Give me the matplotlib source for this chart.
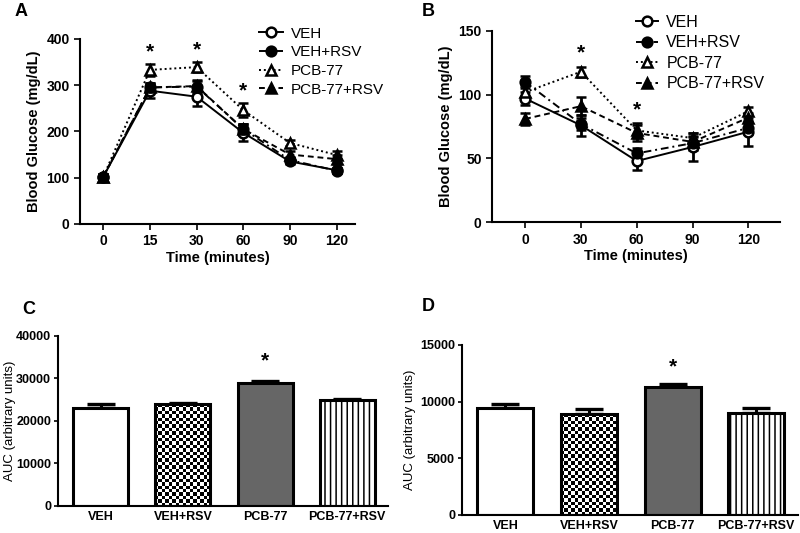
import matplotlib
matplotlib.use("Agg")
import matplotlib.pyplot as plt
import numpy as np

plt.rcParams['font.family'] = ['Liberation Sans', 'DejaVu Sans']
plt.rcParams['hatch.linewidth'] = 1.1

groups = ['VEH', 'VEH+RSV', 'PCB-77', 'PCB-77+RSV']

# panel A: glucose tolerance
time_a = ['0', '15', '30', '60', '90', '120']
veh_a = [102, 288, 275, 197, 135, 116]
veh_rsv_a = [102, 295, 297, 205, 138, 115]
pcb_a = [102, 333, 339, 246, 175, 149]
pcb_rsv_a = [102, 295, 298, 205, 150, 140]
veh_a_err = [6, 15, 20, 18, 6, 5]
veh_rsv_a_err = [6, 10, 15, 12, 6, 5]
pcb_a_err = [5, 13, 10, 15, 7, 8]
pcb_rsv_a_err = [5, 10, 12, 12, 8, 10]
star_a = [1, 2, 3]

# panel B: insulin tolerance
time_b = [0, 30, 60, 90, 120]
veh_b = [97, 76, 48, 59, 71]
veh_rsv_b = [110, 77, 54, 62, 74]
pcb_b = [102, 118, 72, 66, 87]
pcb_rsv_b = [81, 91, 70, 63, 82]
veh_b_err = [5, 8, 7, 11, 11]
veh_rsv_b_err = [5, 5, 4, 5, 5]
pcb_b_err = [5, 4, 6, 4, 3]
pcb_rsv_b_err = [5, 7, 6, 5, 4]
star_b = [30, 60]

# panels C, D: AUC
auc_c = [23000, 23900, 29000, 24800]
auc_c_err = [1000, 300, 400, 400]
auc_d = [9400, 8900, 11250, 9000]
auc_d_err = [400, 450, 300, 400]

styles = [
    dict(ls='-', marker='o', mfc='white'),
    dict(ls=(0, (4, 2, 1, 2)), marker='o', mfc='black'),
    dict(ls=(0, (1, 1.5)), marker='^', mfc='white'),
    dict(ls=(0, (3, 2)), marker='^', mfc='black'),
]

fig = plt.figure(figsize=(8, 5.33), dpi=100)


def style_axes(ax):
    ax.spines['top'].set_visible(False)
    ax.spines['right'].set_visible(False)
    ax.spines['left'].set_linewidth(1.5)
    ax.spines['bottom'].set_linewidth(1.5)
    ax.tick_params(direction='out', length=4, width=1.2)


def line_panel(ax, x, series, errs):
    for name, y, e, st in zip(groups, series, errs, styles):
        ax.errorbar(x, y, yerr=e, color='black', lw=1.4, ls=st['ls'],
                    marker=st['marker'], mfc=st['mfc'], mec='black', ms=7, mew=1.8,
                    capsize=3.5, capthick=2, elinewidth=2, label=name)
    style_axes(ax)
    ax.set_xlabel('Time (minutes)', fontsize=10.5, fontweight='bold', labelpad=2)
    ax.set_ylabel('Blood Glucose (mg/dL)', fontsize=10.5, fontweight='bold', labelpad=4)
    handles, labels = ax.get_legend_handles_labels()
    handles = [h[0] for h in handles]
    return handles, labels


# Panel A
axA = fig.add_axes([0.1, 0.58, 0.344, 0.347])
xa = np.arange(len(time_a))
h, l = line_panel(axA, xa, [veh_a, veh_rsv_a, pcb_a, pcb_rsv_a],
                  [veh_a_err, veh_rsv_a_err, pcb_a_err, pcb_rsv_a_err])
axA.set_xticks(xa)
axA.set_xticklabels(time_a)
axA.set_xlim(-0.5, 5.4)
axA.set_ylim(0, 400)
axA.set_yticks([0, 100, 200, 300, 400])
for lab in axA.get_xticklabels() + axA.get_yticklabels():
    lab.set_fontweight('bold')
    lab.set_fontsize(10)
for i in star_a:
    axA.text(xa[i], pcb_a[i] + pcb_a_err[i] + 6, '*', ha='center', va='bottom',
             fontsize=15, fontweight='bold')
axA.legend(h, l, loc='upper left', bbox_to_anchor=(0.6, 1.14), frameon=False,
           fontsize=11, handlelength=1.6, handletextpad=0.5, labelspacing=0.3)
fig.text(0.018, 0.995, 'A', fontsize=13, fontweight='bold', va='top')

# Panel B
axB = fig.add_axes([0.615, 0.583, 0.36, 0.359])
h, l = line_panel(axB, time_b, [veh_b, veh_rsv_b, pcb_b, pcb_rsv_b],
                  [veh_b_err, veh_rsv_b_err, pcb_b_err, pcb_rsv_b_err])
axB.set_xticks(time_b)
axB.set_xticklabels([str(t) for t in time_b])
axB.set_xlim(-17.8, 137)
axB.set_ylim(0, 150)
axB.set_yticks([0, 50, 100, 150])
for lab in axB.get_xticklabels() + axB.get_yticklabels():
    lab.set_fontweight('bold')
    lab.set_fontsize(10)
for t in star_b:
    i = time_b.index(t)
    top = max(pcb_b[i] + pcb_b_err[i], pcb_rsv_b[i] + pcb_rsv_b_err[i])
    axB.text(t, top + 3, '*', ha='center', va='bottom', fontsize=15, fontweight='bold')
axB.legend(h, l, loc='upper left', bbox_to_anchor=(0.45, 1.16), frameon=False,
           fontsize=11.5, handlelength=1.4, handletextpad=0.5, labelspacing=0.35)
fig.text(0.527, 0.995, 'B', fontsize=13, fontweight='bold', va='top')


def checker_fill(ax, bar, cell_px=3.4):
    # draw a black/white checkerboard inside one bar, clipped to its outline
    fig.canvas.draw()
    bb = bar.get_window_extent()
    nx = max(int(round(bb.width / cell_px)), 1)
    ny = max(int(round(bb.height / cell_px)), 1)
    board = (np.add.outer(np.arange(ny), np.arange(nx)) % 2).astype(float)
    x0 = bar.get_x()
    ext = [x0, x0 + bar.get_width(), 0, bar.get_height()]
    im = ax.imshow(board, cmap='gray', extent=ext, origin='lower', aspect='auto',
                   interpolation='nearest', zorder=1.5)
    im.set_clip_path(bar)


def bar_panel(ax, vals, errs, ymax, step, label_x):
    xb = np.arange(len(groups))
    fills = ['white', 'white', '#666666', 'white']
    hatches = [None, None, None, '|||']
    bars = ax.bar(xb, vals, width=0.67, color=fills, edgecolor='black', linewidth=2.2, zorder=2)
    for b, hp in zip(bars, hatches):
        if hp:
            b.set_hatch(hp)
    ax.errorbar(xb, vals, yerr=[np.zeros(len(errs)), errs], fmt='none', ecolor='black',
                elinewidth=2.2, capsize=10, capthick=2.4, zorder=1)
    style_axes(ax)
    ax.tick_params(axis='y', length=3, pad=2)
    ax.set_xticks(xb)
    ax.set_xticklabels(groups, fontweight='bold', fontsize=9)
    ax.tick_params(axis='x', length=0)
    ax.set_xlim(-0.52, 3.5)
    ax.set_ylim(0, ymax)
    ax.set_yticks(np.arange(0, ymax + 1, step))
    for lab in ax.get_yticklabels():
        lab.set_fontweight('bold')
        lab.set_fontsize(9)
    ax.set_ylabel('AUC (arbitrary units)', fontsize=9.5)
    ax.yaxis.set_label_coords(label_x, 0.5)
    # checkered bar drawn on top of white fill, edge redrawn afterwards
    checker_fill(ax, bars[1])
    bars[1].set_facecolor('none')
    bars[1].set_zorder(2)
    return xb


axC = fig.add_axes([0.0725, 0.051, 0.413, 0.319])
xb = bar_panel(axC, auc_c, auc_c_err, 40000, 10000, -0.128)
axC.text(xb[2], auc_c[2] + auc_c_err[2] + 2500, '*', ha='center', va='bottom',
         fontsize=15, fontweight='bold')
fig.text(0.028, 0.435, 'C', fontsize=13, fontweight='bold', va='top')

axD = fig.add_axes([0.5775, 0.034, 0.42, 0.319])
xb = bar_panel(axD, auc_d, auc_d_err, 15000, 5000, -0.138)
axD.text(xb[2], auc_d[2] + auc_d_err[2] + 700, '*', ha='center', va='bottom',
         fontsize=15, fontweight='bold')
fig.text(0.527, 0.44, 'D', fontsize=13, fontweight='bold', va='top')

fig.savefig('out.png', dpi=100)
